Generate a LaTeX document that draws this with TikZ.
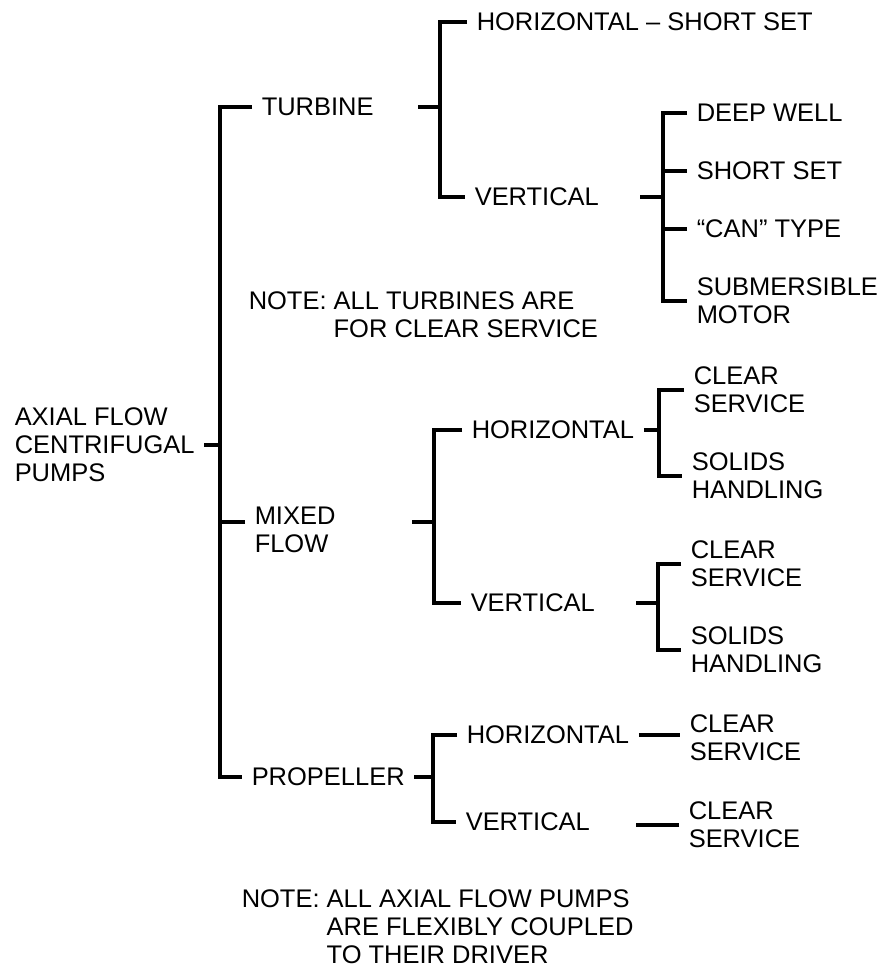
\documentclass[tikz,border=0pt]{standalone}
\usepackage{fontspec}
\setmainfont{Liberation Sans}
\tikzset{
  lbl/.style={anchor=west, inner xsep=0.16cm, inner ysep=0pt, align=left},
  note/.style={anchor=north west, inner sep=0pt, align=left},
}
\begin{document}
\begin{tikzpicture}[x=0.02cm, y=-0.02cm, line width=2pt, font=\fontsize{14.5}{15.9}\selectfont]
    \useasboundingbox (0,0) rectangle (879,968);
    % x of the bracket spines
    \coordinate (sA) at (220,0);
    \coordinate (sB) at (440,0);
    \coordinate (sC) at (663,0);
    \coordinate (sD) at (434,0);
    \coordinate (sE) at (659,0);
    \coordinate (sF) at (658,0);
    \coordinate (sG) at (433,0);
    % labels
    \node[lbl] (axial) at (5,445) {AXIAL FLOW\\CENTRIFUGAL\\PUMPS};
    \node[lbl] (turb) at (252,107) {TURBINE};
    \node[lbl] (mixed) at (245,530) {MIXED\\FLOW};
    \node[lbl] (prop) at (242,777) {PROPELLER};
    \node[lbl] (hss) at (467,22) {HORIZONTAL -- SHORT SET};
    \node[lbl] (tvert) at (465,197) {VERTICAL};
    \node[lbl] (deep) at (687,113) {DEEP WELL};
    \node[lbl] (short) at (687,171) {SHORT SET};
    \node[lbl] (can) at (687,229) {“CAN” TYPE};
    \node[lbl] (subm) at (687,301) {SUBMERSIBLE\\MOTOR};
    \node[lbl] (mhor) at (462,430) {HORIZONTAL};
    \node[lbl] (mvert) at (461,603) {VERTICAL};
    \node[lbl] (mhcs) at (684,390) {CLEAR\\SERVICE};
    \node[lbl] (mhsh) at (682,476) {SOLIDS\\HANDLING};
    \node[lbl] (mvcs) at (681,564) {CLEAR\\SERVICE};
    \node[lbl] (mvsh) at (681,650) {SOLIDS\\HANDLING};
    \node[lbl] (phor) at (457,735) {HORIZONTAL};
    \node[lbl] (pvert) at (456,822) {VERTICAL};
    \node[lbl] (phcs) at (680,738) {CLEAR\\SERVICE};
    \node[lbl] (pvcs) at (679,825) {CLEAR\\SERVICE};
    \node[note] (note1) at (247,290) {NOTE: ALL TURBINES ARE\\\hphantom{NOTE: }FOR CLEAR SERVICE};
    \node[note] (note2) at (240,888) {NOTE: ALL AXIAL FLOW PUMPS\\\hphantom{NOTE: }ARE FLEXIBLY COUPLED\\\hphantom{NOTE: }TO THEIR DRIVER};
    \coordinate (mtick) at ([yshift=0.16cm]mixed.west);
    \coordinate (mdash) at ([yshift=0.16cm]mixed.east);
    % main bracket
    \draw (turb.west) -- (turb.west -| sA) -- (prop.west -| sA) -- (prop.west);
    \draw (mtick) -- (mtick -| sA);
    \draw (axial.east) -- (axial.east -| sA);
    % turbine
    \draw (hss.west) -- (hss.west -| sB) -- (tvert.west -| sB) -- (tvert.west);
    \draw (turb.east -| sB) -- ++(-22,0);
    \draw (deep.west) -- (deep.west -| sC) -- (subm.west -| sC) -- (subm.west);
    \foreach \n in {short,can} {\draw (\n.west) -- (\n.west -| sC);}
    \draw (tvert.east -| sC) -- ++(-23,0);
    % mixed flow
    \draw (mhor.west) -- (mhor.west -| sD) -- (mvert.west -| sD) -- (mvert.west);
    \draw (mdash -| sD) -- ++(-22,0);
    \draw (mhcs.west) -- (mhcs.west -| sE) -- (mhsh.west -| sE) -- (mhsh.west);
    \draw (mhor.east) -- (mhor.east -| sE);
    \draw (mvcs.west) -- (mvcs.west -| sF) -- (mvsh.west -| sF) -- (mvsh.west);
    \draw (mvert.east -| sF) -- ++(-22,0);
    % propeller
    \draw (phor.west) -- (phor.west -| sG) -- (pvert.west -| sG) -- (pvert.west);
    \draw (prop.east) -- (prop.east -| sG);
    \draw (phor.east) -- (phcs.west |- phor.east);
    \draw (pvcs.west) -- ++(-43,0);
\end{tikzpicture}
\end{document}
